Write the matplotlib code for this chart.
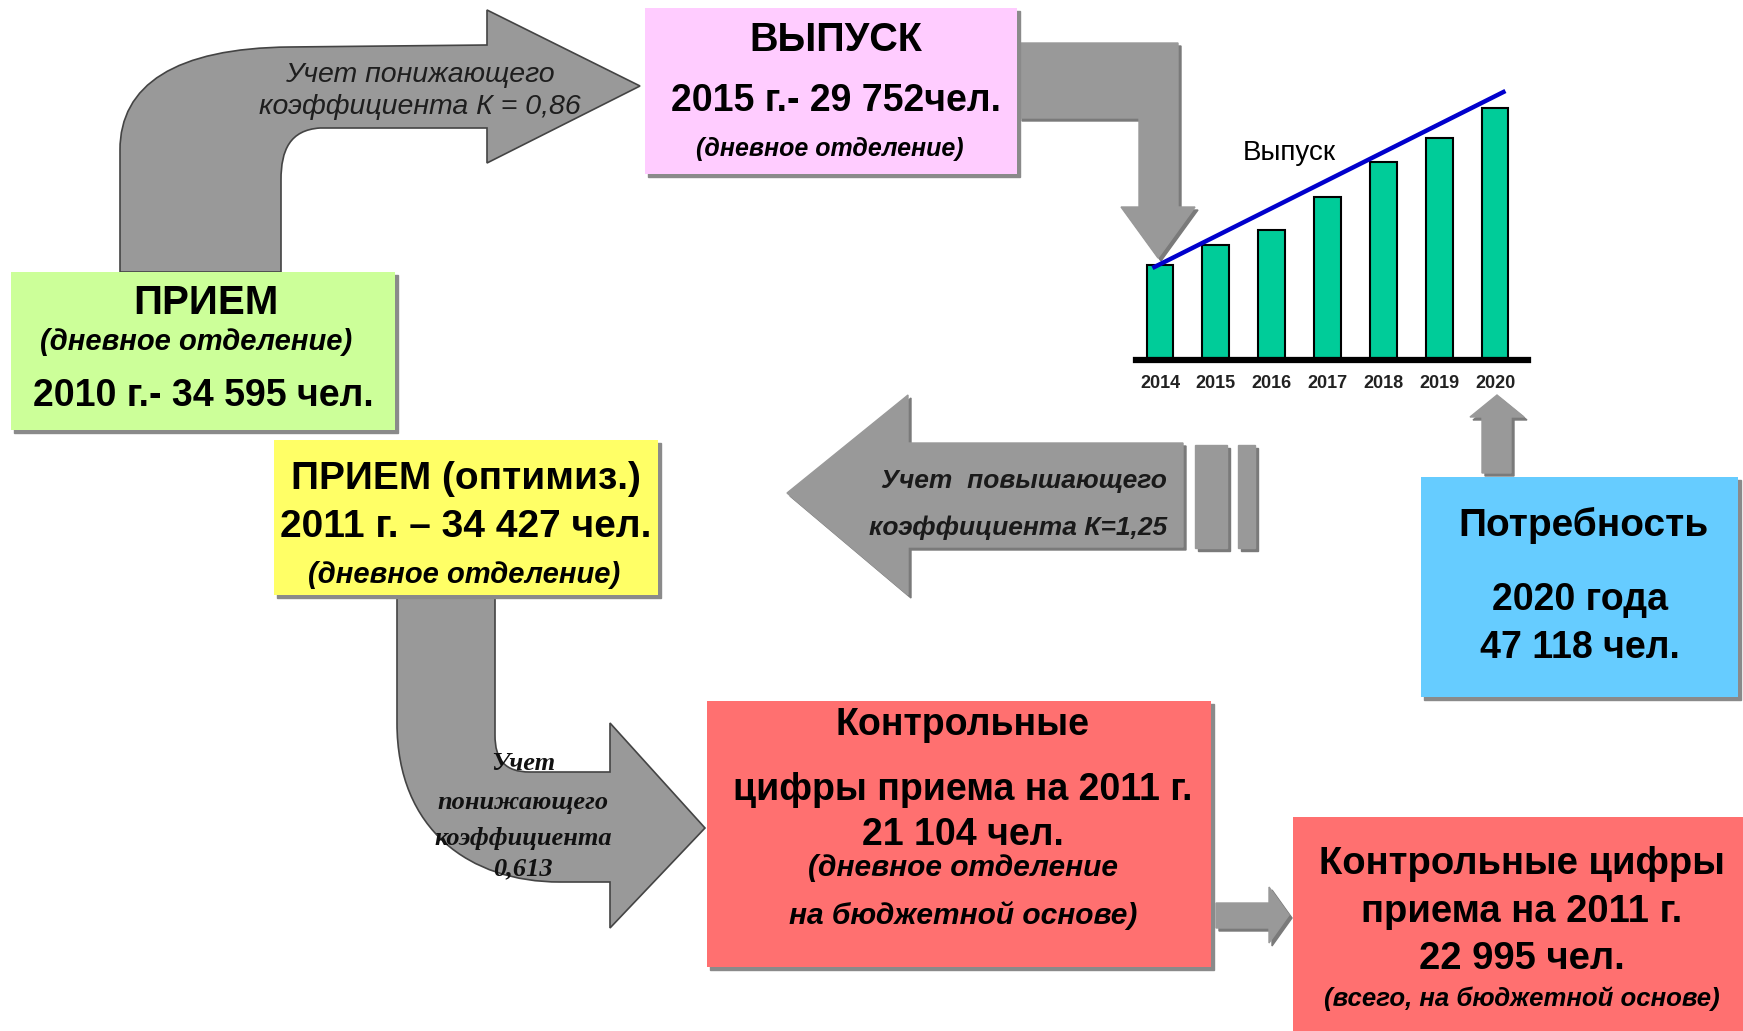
import matplotlib.pyplot as plt
from matplotlib.patches import Polygon, PathPatch, Rectangle
from matplotlib.path import Path

W, H = 1743, 1031

# bar chart "Выпуск" (relative heights, the slide has no scale)
years = ['2014', '2015', '2016', '2017', '2018', '2019', '2020']
graduates = [95, 115, 130, 163, 198, 222, 252]
trend_x = [-0.1, 6.15]
trend_y = [93, 268]

vypusk_lines = ['ВЫПУСК', '2015 г.- 29 752чел.', '(дневное отделение)']
priem_lines = ['ПРИЕМ', '(дневное отделение)', '2010 г.- 34 595 чел.']
optim_lines = ['ПРИЕМ (оптимиз.)', '2011 г. – 34 427 чел.', '(дневное отделение)']
need_lines = ['Потребность', '2020 года', '47 118 чел.']
kcp_day_lines = ['Контрольные', 'цифры приема на 2011 г.', '21 104 чел.',
                 '(дневное отделение', 'на бюджетной основе)']
kcp_all_lines = ['Контрольные цифры', 'приема на 2011 г.', '22 995 чел.',
                 '(всего, на бюджетной основе)']
k_down = ['Учет понижающего', 'коэффициента К = 0,86']
k_up = ['Учет  повышающего', 'коэффициента К=1,25']
k_budget = ['Учет', 'понижающего', 'коэффициента', '0,613']

SANS = ['Liberation Sans', 'DejaVu Sans']
SERIF = ['Liberation Serif', 'DejaVu Serif']

GRAY = '#999999'
SHADOW = '#8a8a8a'

fig = plt.figure(figsize=(W / 100, H / 100), dpi=100)
ax = fig.add_axes([0, 0, 1, 1])
ax.set_xlim(0, W)
ax.set_ylim(H, 0)
ax.axis('off')


def box(x0, y0, x1, y1, color):
    ax.add_patch(Rectangle((x0 + 3, y0 + 3), x1 - x0, y1 - y0, color=SHADOW, zorder=2))
    ax.add_patch(Rectangle((x0, y0), x1 - x0, y1 - y0, facecolor=color,
                           edgecolor='none', zorder=3))


def poly(pts, color=GRAY):
    ax.add_patch(Polygon([(x + 3, y + 3) for x, y in pts], color='#7a7a7a', zorder=1))
    ax.add_patch(Polygon(pts, color=color, zorder=1.2))


def curved(verts, codes):
    ax.add_patch(PathPatch(Path(verts, codes), facecolor=GRAY, edgecolor='#444444',
                           lw=1.2, zorder=1.2))


def lines(x, ys, texts, size, fam=SANS, style='normal', weight='bold', color='black',
          ha='center'):
    for y, s in zip(ys, texts):
        ax.text(x, y + 3, s, ha=ha, va='center', fontsize=size, family=fam, style=style,
                fontweight=weight, color=color, zorder=5)


M, L, C, X = Path.MOVETO, Path.LINETO, Path.CURVE4, Path.CLOSEPOLY

# bent arrow: ПРИЕМ -> ВЫПУСК
curved([(120, 272), (120, 150), (120, 85), (175, 48), (290, 47), (487, 45), (487, 10),
        (640, 86), (487, 163), (487, 128), (320, 128), (290, 130), (281, 150), (281, 180),
        (281, 272), (120, 272)],
       [M, L, C, C, C, L, L, L, L, L, L, C, C, C, L, X])

# bent arrow: ПРИЕМ (оптимиз.) -> КЦП
curved([(397, 590), (397, 723), (397, 830), (470, 882), (560, 882), (610, 882), (610, 928),
        (705, 828), (610, 723), (610, 772), (530, 772), (505, 772), (495, 760), (495, 735),
        (495, 590), (397, 590)],
       [M, L, C, C, C, L, L, L, L, L, L, C, C, C, L, X])

# ВЫПУСК -> chart
poly([(1019, 43), (1178, 43), (1178, 207), (1195, 207), (1158, 258), (1121, 207),
      (1139, 207), (1139, 118), (1019, 118)])
# big left arrow
poly([(787, 493), (908, 395), (908, 443), (1183, 443), (1183, 547), (908, 547), (908, 595)])
poly([(1195, 445), (1227, 445), (1227, 548), (1195, 548)])
poly([(1238, 445), (1255, 445), (1255, 548), (1238, 548)])
# up arrow from Потребность
poly([(1497, 395), (1524, 417), (1511, 417), (1511, 473), (1482, 473), (1482, 417), (1470, 417)])
# small arrow between red boxes
poly([(1216, 903), (1269, 903), (1269, 887), (1289, 915), (1269, 943), (1269, 928), (1216, 928)])

box(645, 8, 1017, 174, '#FFCCFF')
box(11, 272, 395, 430, '#CCFF99')
box(274, 440, 658, 595, '#FFFF66')
box(1421, 477, 1738, 697, '#66CCFF')
box(707, 701, 1211, 967, '#FF7070')
box(1293, 817, 1743, 1040, '#FF7070')

lines(836, [37], vypusk_lines[:1], 28.5)
lines(836, [98], vypusk_lines[1:2], 27)
lines(830, [146], vypusk_lines[2:], 18, style='italic')

lines(206, [300], priem_lines[:1], 29)
lines(196, [339], priem_lines[1:2], 21, style='italic')
lines(203, [393], priem_lines[2:], 27)

lines(466, [476, 524], optim_lines[:2], 28)
lines(464, [572], optim_lines[2:], 21, style='italic')

lines(1584, [522], need_lines[:1], 28)
lines(1580, [597, 645], need_lines[1:], 27)

lines(963, [722, 787, 832], kcp_day_lines[:3], 27)
lines(963, [865, 913], kcp_day_lines[3:], 21.5, style='italic')

lines(1522, [861, 909, 956], kcp_all_lines[:3], 27.5)
lines(1522, [996], kcp_all_lines[3:], 18.5, style='italic')

lines(420, [72, 104], k_down, 20.5, style='italic', weight='normal', color='#1e1e1e')
lines(1167, [478, 525], k_up, 19, style='italic', color='#1a1a1a', ha='right')
lines(523, [760, 800, 836, 866], k_budget, 19, fam=SERIF, style='italic', color='#111111')

ax.text(1289, 153, 'Выпуск', ha='center', va='center', fontsize=20, family=SANS,
        color='black', zorder=5)

# inset bar chart
x0, x1, base, top = 1136, 1528, 360, 80
bx = fig.add_axes([x0 / W, 1 - base / H, (x1 - x0) / W, (base - top) / H])
bx.set_facecolor('none')
pos = list(range(len(years)))
bx.bar(pos, graduates, width=0.48, color='#00CC99', edgecolor='black', linewidth=1.5,
       zorder=2)
bx.plot(trend_x, trend_y, color='#0000CC', lw=3.2, zorder=3, clip_on=False)
bx.set_xlim(-0.43, 6.59)
bx.set_ylim(0, base - top)
bx.set_xticks(pos)
bx.set_xticklabels(years, fontsize=13, fontweight='bold', family=SANS, color='#222222')
bx.tick_params(axis='x', length=0, pad=11)
bx.set_yticks([])
for s in ['top', 'left', 'right']:
    bx.spines[s].set_visible(False)
bx.spines['bottom'].set_linewidth(4.5)

fig.savefig('out.png', dpi=100)
